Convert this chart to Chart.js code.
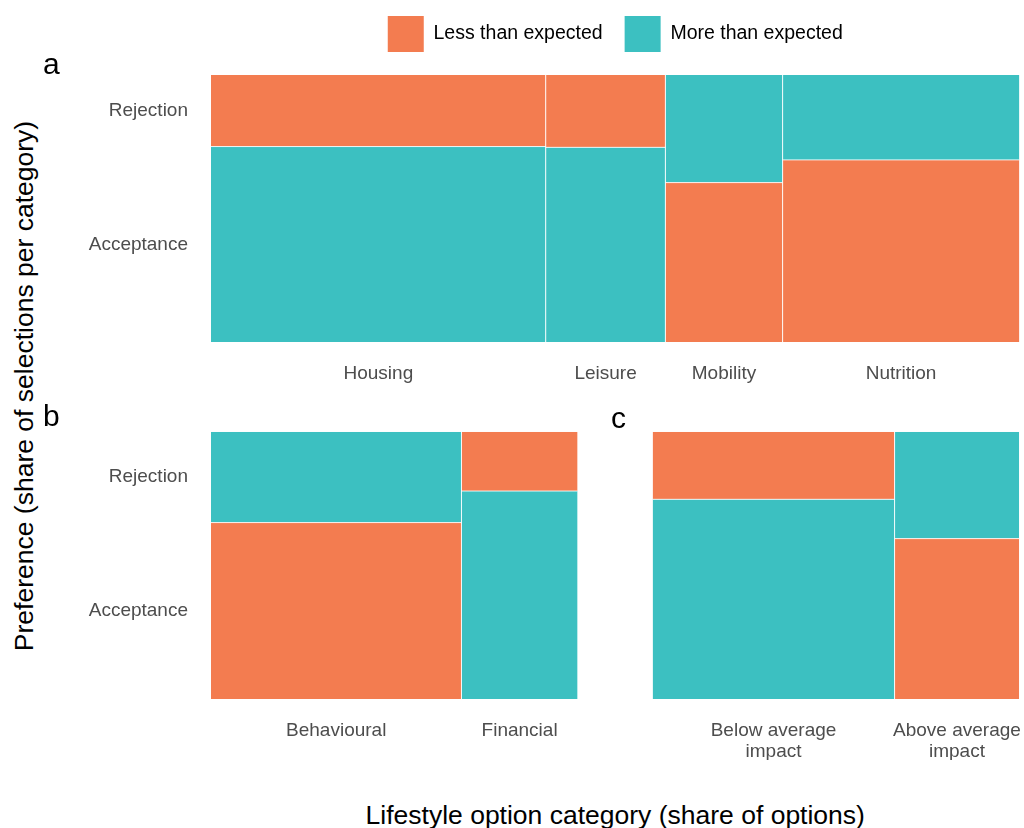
<!DOCTYPE html>
<html>
<head>
<meta charset="utf-8">
<title>Lifestyle option preferences</title>
<script src="https://cdn.jsdelivr.net/npm/chart.js@4.4.1/dist/chart.umd.min.js"></script>
<style>
  html, body { margin: 0; padding: 0; background: #ffffff; }
  body { width: 1024px; height: 828px; overflow: hidden; position: relative;
         font-family: "Liberation Sans", Arial, Helvetica, sans-serif; }
  canvas { position: absolute; }
  .axis-title { position: absolute; font-size: 26.5px; line-height: 30px; color: #000;
                white-space: nowrap; text-align: center; }
  #ytitle { width: 600px; height: 30px; left: -276px; top: 371px; transform: rotate(-90deg); }
  #xtitle { width: 808.5px; height: 30px; left: 211px; top: 799.5px; }
</style>
</head>
<body>
<canvas id="panelA" width="981" height="400" style="left:43px; top:-6px;"></canvas>
<canvas id="panelB" width="542" height="360" style="left:43px; top:400px;"></canvas>
<canvas id="panelC" width="413" height="360" style="left:611px; top:400px;"></canvas>
<div class="axis-title" id="ytitle">Preference (share of selections per category)</div>
<div class="axis-title" id="xtitle">Lifestyle option category (share of options)</div>

<script>
// Residual direction of each cell against independence
const LESS = 'Less than expected';
const MORE = 'More than expected';
const fitColours = { [LESS]: '#F37C50', [MORE]: '#3CC0C1' };

// Preference levels, bottom to top
const preferenceLabels = ['Acceptance', 'Rejection'];

// Panel a: lifestyle domains
const domainCategories = ['Housing', 'Leisure', 'Mobility', 'Nutrition'];
const domainShare = [0.414, 0.148, 0.145, 0.293];
const domainRejection = [0.268, 0.271, 0.403, 0.318];
const domainRejectionFit = [LESS, LESS, MORE, MORE];
const domainAcceptanceFit = [MORE, MORE, LESS, LESS];

// Panel b: type of option
const typeCategories = ['Behavioural', 'Financial'];
const typeShare = [0.683, 0.317];
const typeRejection = [0.340, 0.222];
const typeRejectionFit = [MORE, LESS];
const typeAcceptanceFit = [LESS, MORE];

// Panel c: climate impact of option
const impactCategories = [['Below average', 'impact'], ['Above average', 'impact']];
const impactShare = [0.660, 0.340];
const impactRejection = [0.253, 0.400];
const impactRejectionFit = [LESS, MORE];
const impactAcceptanceFit = [MORE, LESS];

const FONT = '"Liberation Sans", Arial, Helvetica, sans-serif';
const TICK_GREY = '#4D4D4D';

function area(points, fill, colour) {
  return { data: points, fill: fill, backgroundColor: colour, borderColor: 'transparent',
           borderWidth: 0, pointRadius: 0, tension: 0, order: 1 };
}
function seam(points) {
  return { data: points, fill: false, borderColor: 'rgba(255,255,255,0.85)',
           borderWidth: 1, pointRadius: 0, tension: 0, order: 0 };
}

// Each column: acceptance fills from 0 up to its share, rejection fills the rest up to 1
function mosaicDatasets(share, rejection, rejFit, accFit) {
  const fills = [], seams = [];
  let x0 = 0;
  share.forEach((w, i) => {
    const x1 = x0 + w;
    const acc = 1 - rejection[i];
    fills.push(area([{ x: x0, y: acc }, { x: x1, y: acc }], 'origin', fitColours[accFit[i]]));
    fills.push(area([{ x: x0, y: 1 }, { x: x1, y: 1 }], { value: acc }, fitColours[rejFit[i]]));
    seams.push(seam([{ x: x0, y: acc }, { x: x1, y: acc }]));
    if (i > 0) seams.push(seam([{ x: x0, y: 0 }, { x: x0, y: 1 }]));
    x0 = x1;
  });
  return seams.concat(fills);
}

function mosaicChart(id, p) {
  const centres = [];
  let c = 0;
  p.share.forEach(w => { centres.push(c + w / 2); c += w; });
  const acc0 = 1 - p.rejection[0];

  return new Chart(document.getElementById(id), {
    type: 'line',
    data: { datasets: mosaicDatasets(p.share, p.rejection, p.rejectionFit, p.acceptanceFit) },
    options: {
      responsive: false,
      animation: false,
      events: [],
      layout: { padding: { left: 0, top: 0, right: p.padRight, bottom: 0 } },
      scales: {
        x: {
          type: 'linear', min: 0, max: 1,
          // tick marks hidden; their length only spaces the labels from the panel
          grid: { display: false, drawTicks: true, tickLength: 21.5 },
          border: { display: false },
          afterBuildTicks: s => { s.ticks = centres.map(v => ({ value: v })); },
          afterFit: s => { s.height = p.xAxisHeight; },
          ticks: {
            autoSkip: false, maxRotation: 0, minRotation: 0, padding: 0,
            color: TICK_GREY, font: { family: FONT, size: 19, lineHeight: 1.1 },
            callback: (v, i) => p.categories[i]
          }
        },
        y: {
          type: 'linear', min: 0, max: 1,
          grid: { display: false, drawTicks: true, tickLength: 23 },
          border: { display: false },
          afterBuildTicks: s => { s.ticks = [{ value: acc0 / 2 }, { value: (acc0 + 1) / 2 }]; },
          afterFit: s => { s.width = p.yAxisWidth; },
          ticks: {
            display: p.showPreference, padding: 0,
            color: TICK_GREY, font: { family: FONT, size: 19 },
            callback: (v, i) => preferenceLabels[i]
          }
        }
      },
      plugins: {
        tooltip: { enabled: false },
        legend: {
          display: p.showLegend,
          position: 'top',
          fullSize: false,
          labels: {
            boxWidth: 36, boxHeight: 36, padding: 22, color: '#000',
            font: { family: FONT, size: 19.5 },
            generateLabels: () => [LESS, MORE].map(t => ({
              text: t, fillStyle: fitColours[t], strokeStyle: 'transparent', lineWidth: 0, hidden: false
            }))
          }
        },
        title: {
          display: true, text: p.tag, align: 'start', weight: 500, color: '#000',
          font: { family: FONT, size: 30, weight: 'normal', lineHeight: 1.2 },
          padding: p.tagPadding
        }
      }
    }
  });
}

mosaicChart('panelA', {
  tag: 'a', categories: domainCategories, share: domainShare, rejection: domainRejection,
  rejectionFit: domainRejectionFit, acceptanceFit: domainAcceptanceFit,
  showLegend: true, showPreference: true,
  padRight: 4.5, yAxisWidth: 168, xAxisHeight: 52, tagPadding: { top: -14.3, bottom: -8.7 }
});

mosaicChart('panelB', {
  tag: 'b', categories: typeCategories, share: typeShare, rejection: typeRejection,
  rejectionFit: typeRejectionFit, acceptanceFit: typeAcceptanceFit,
  showLegend: false, showPreference: true,
  padRight: 7.3, yAxisWidth: 168, xAxisHeight: 61, tagPadding: { top: 0, bottom: -4.3 }
});

mosaicChart('panelC', {
  tag: 'c', categories: impactCategories, share: impactShare, rejection: impactRejection,
  rejectionFit: impactRejectionFit, acceptanceFit: impactAcceptanceFit,
  showLegend: false, showPreference: false,
  padRight: 4.7, yAxisWidth: 41.5, xAxisHeight: 61, tagPadding: { top: 1.5, bottom: -5.8 }
});
</script>
</body>
</html>
